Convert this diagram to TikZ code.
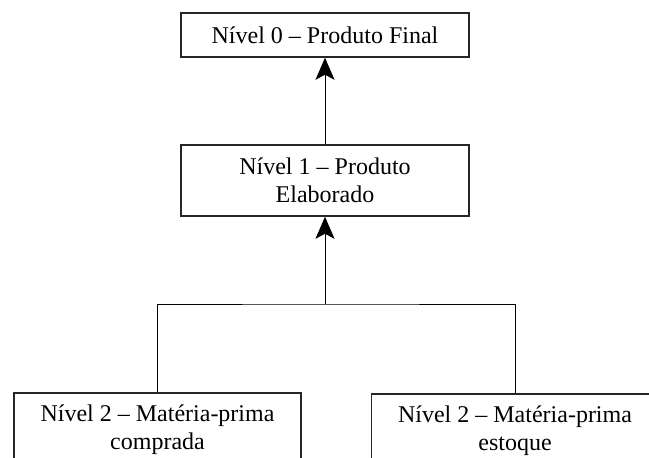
\documentclass[tikz,border=0pt]{standalone}
\usepackage{fontspec}
\setmainfont{Liberation Serif}
\usetikzlibrary{arrows.meta}
\begin{document}
\begin{tikzpicture}[x=1pt,y=-1pt,
  box/.style={draw=black!85, line width=1.5pt, align=center, font=\fontsize{24}{28}\selectfont, inner xsep=4pt},
  link/.style={draw=black, line width=1pt},
  arr/.style={link, -{Stealth[length=22pt,width=19pt,inset=5pt]}}]
\useasboundingbox (0,0) rectangle (649,458);
\clip (0,0) rectangle (649,458);
\fill[white] (0,0) rectangle (649,458);
\node[box, minimum width=288pt, minimum height=44pt] (top) at (325,35) {Nível 0 – Produto Final};
\node[box, minimum width=288pt, minimum height=71pt] (mid) at (325,180.5) {Nível 1 – Produto\\Elaborado};
\node[box, anchor=north, minimum width=287pt, inner ysep=11.6pt] (left) at (157.5,392) {Nível 2 – Matéria-prima\\comprada};
\node[box, anchor=north, minimum width=287pt, inner ysep=11.6pt] (right) at (515,393) {Nível 2 – Matéria-prima\\estoque};
\coordinate (j) at (325,304);
\draw[arr] (mid.north) -- (top.south);
\draw[link] (left.north) |- (j) -| (right.north);
\draw[arr] (j) -- (mid.south);
\end{tikzpicture}
\end{document}
